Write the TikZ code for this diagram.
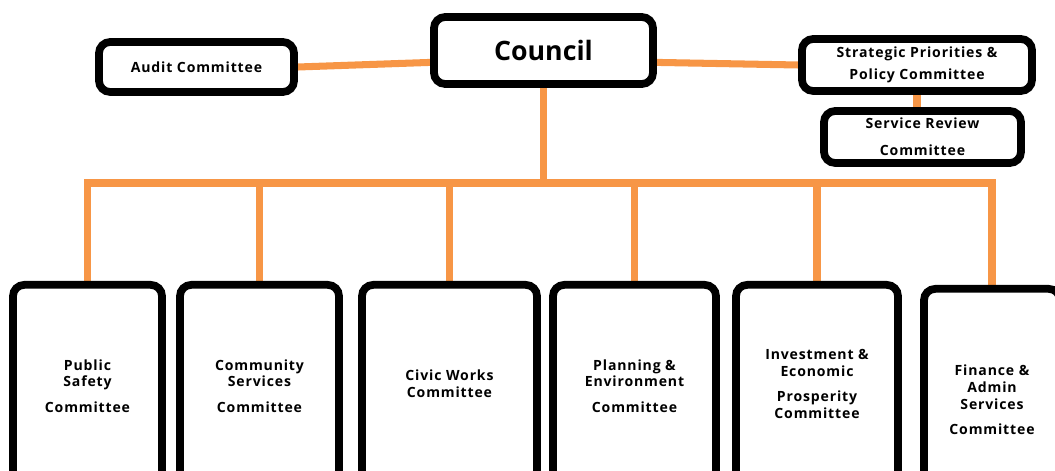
\documentclass[tikz,border=0pt]{standalone}
\usepackage{fontspec}
\setmainfont{Open Sans}
\usetikzlibrary{backgrounds}
\definecolor{linkorange}{HTML}{F79646}

\begin{document}
\begin{tikzpicture}[
    x=0.025cm, y=-0.025cm,
    box/.style={draw, line width=5.5pt, rounded corners=8pt, fill=white,
      align=center, font=\bfseries\fontsize{10}{12}\selectfont\addfontfeature{LetterSpace=6}},
    unit/.style={box, anchor=north},
    link/.style={draw=linkorange, line width=5pt}
  ]
  \useasboundingbox (0,0) rectangle (1055,471);
  % top level
  \node[box, minimum width=5.475cm, minimum height=1.675cm,
    font=\bfseries\fontsize{19}{22}\selectfont] (council) at (543.5,50.5) {Council};
  \node[box, minimum width=4.875cm, minimum height=1.25cm] (audit) at (196.5,67) {Audit Committee};
  \node[box, minimum width=5.75cm, minimum height=1.3cm] (strat) at (917,65)
    {Strategic Priorities \&\\[4pt]Policy Committee};
  \node[box, minimum width=4.925cm, minimum height=1.3cm] (review) at (922.5,137)
    {Service Review\\[7pt]Committee};
  % standing committees
  \node[unit, minimum width=3.725cm, minimum height=5.05cm] (safety) at (87.5,281)
    {Public\\Safety\\[6pt]Committee};
  \node[unit, minimum width=3.975cm, minimum height=5.05cm] (community) at (259.5,281)
    {Community\\Services\\[6pt]Committee};
  \node[unit, minimum width=4.375cm, minimum height=4.95cm] (works) at (449.5,281)
    {Civic Works\\Committee};
  \node[unit, minimum width=4.075cm, minimum height=5.05cm] (planning) at (634.5,281)
    {Planning \&\\Environment\\[6pt]Committee};
  \node[unit, minimum width=4.05cm, minimum height=4.95cm] (invest) at (817,281)
    {Investment \&\\Economic\\[6pt]Prosperity\\Committee};
  \node[unit, minimum width=3.4cm, minimum height=5.55cm] (finance) at (992,285)
    {Finance \&\\Admin\\Services\\[6pt]Committee};
  \coordinate (bus) at (543.5,183);
  % connectors
  \begin{scope}[on background layer]
    \draw[link] (audit.east) -- (council.186);
    \draw[link] (council.354) -- (strat.west);
    \draw[link] (strat.south) -- (review.north -| strat.south);
    \draw[link] (council.south) -- (bus);
    \draw[link] (safety.north) |- (bus) -| (finance.north);
    \draw[link] (community.north) -- (community.north |- bus);
    \draw[link] (works.north) -- (works.north |- bus);
    \draw[link] (planning.north) -- (planning.north |- bus);
    \draw[link] (invest.north) -- (invest.north |- bus);
  \end{scope}
\end{tikzpicture}
\end{document}
